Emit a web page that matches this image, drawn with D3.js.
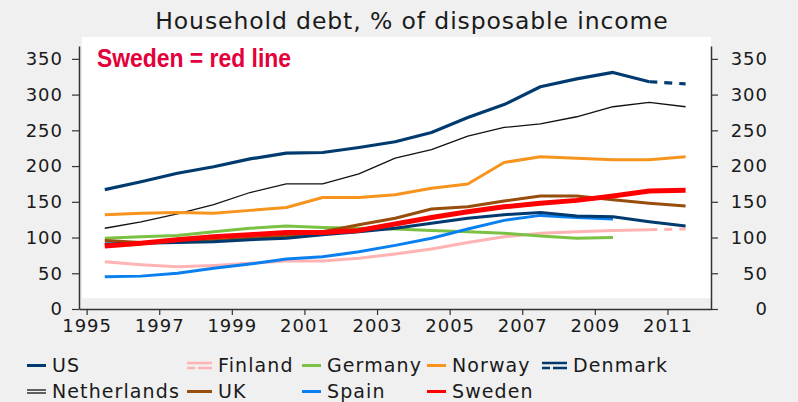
<!DOCTYPE html>
<html>
<head>
<meta charset="utf-8">
<script src="https://cdn.jsdelivr.net/npm/d3@7"></script>
<style>
  html, body { margin: 0; padding: 0; background: #f0f0f0; }
  #chart { width: 798px; height: 402px; }
  text { font-family: "DejaVu Sans", "Open Sans", sans-serif; fill: #1a1a1a; }
</style>
</head>
<body>
<div id="chart"></div>
<script>
// years are mid-year observations
const years = [1995.5, 1996.5, 1997.5, 1998.5, 1999.5, 2000.5, 2001.5, 2002.5, 2003.5,
  2004.5, 2005.5, 2006.5, 2007.5, 2008.5, 2009.5, 2010.5, 2011.5];

const denmark = [167, 178, 190, 199, 210, 218, 219, 226, 234, 247, 268, 286, 311, 322, 331, 318, 315];
const netherlands = [113, 122, 133, 146, 163, 175, 175, 189, 211, 223, 242, 254, 259, 269, 283, 289, 283];
const norway = [132, 134, 135, 134, 138, 142, 156, 156, 160, 169, 175, 205, 213, 211, 209, 209, 213];
const uk = [96, 93, 94, 96, 99, 102, 108, 118, 127, 140, 143, 151, 158, 158, 153, 148, 144];
const spain = [45, 46, 50, 57, 63, 70, 73, 80, 89, 99, 112, 124, 131, 128, 126];
const germany = [99, 101, 103, 108, 113, 116, 114, 113, 112, 110, 108, 106, 102, 99, 100];
const finland = [66, 62, 59, 61, 64, 67, 67, 71, 77, 84, 93, 101, 106, 108, 110, 111, 112];
const us = [91, 92, 93, 94, 97, 99, 104, 108, 113, 120, 127, 132, 135, 130, 129, 122, 116];
const sweden = [88, 92, 97, 101, 104, 107, 107, 110, 119, 128, 136, 143, 148, 152, 158, 165, 166];

const yTicks = [0, 50, 100, 150, 200, 250, 300, 350];
const xTicks = [1995, 1997, 1999, 2001, 2003, 2005, 2007, 2009, 2011];

// dashed = last segment is a forecast
const series = [
  { name: "Netherlands", values: netherlands, color: "#111111", width: 1.3 },
  { name: "Finland", values: finland, color: "#ffb3b3", width: 3, dashed: true },
  { name: "Germany", values: germany, color: "#7bc143", width: 3 },
  { name: "Norway", values: norway, color: "#f7941d", width: 3 },
  { name: "UK", values: uk, color: "#974d0c", width: 3 },
  { name: "Spain", values: spain, color: "#0a80f0", width: 3 },
  { name: "US", values: us, color: "#003a6e", width: 3 },
  { name: "Denmark", values: denmark, color: "#003a6e", width: 3.2, dashed: true },
  { name: "Sweden", values: sweden, color: "#ff0000", width: 5 }
];

const legendRows = [
  ["US", "Finland", "Germany", "Norway", "Denmark"],
  ["Netherlands", "UK", "Spain", "Sweden"]
];

function renderDebtChart(containerId) {
  const container = d3.select(`#${containerId}`);
  container.selectAll("*").remove();

  const width = 798, height = 402;
  const svg = container.append("svg")
    .attr("width", width)
    .attr("height", height);

  svg.append("rect")
    .attr("width", width)
    .attr("height", height)
    .attr("fill", "#f0f0f0");

  const x = d3.scaleLinear().domain([1994.79, 2012.2]).range([79, 711]);
  const y = d3.scaleLinear().domain([0, 368]).range([309, 46]);

  // white plot panel
  svg.append("rect")
    .attr("x", 82)
    .attr("y", 37)
    .attr("width", 711 - 82)
    .attr("height", 298 - 37)
    .attr("fill", "#ffffff");

  svg.append("text")
    .attr("x", 412)
    .attr("y", 29)
    .attr("text-anchor", "middle")
    .style("font-size", "23.5px")
    .style("letter-spacing", "0.9px")
    .text("Household debt, % of disposable income");

  svg.append("text")
    .attr("x", 97)
    .attr("y", 67)
    .attr("textLength", 194)
    .attr("lengthAdjust", "spacingAndGlyphs")
    .style("font-family", "'Liberation Sans Narrow', 'Arial Narrow', 'Liberation Sans', sans-serif")
    .style("font-weight", "bold")
    .style("font-size", "25px")
    .style("fill", "#e4003b")
    .text("Sweden = red line");

  const line = d3.line()
    .x(d => x(d[0]))
    .y(d => y(d[1]));

  series.forEach(s => {
    const pts = s.values.map((v, i) => [years[i], v]);
    const solid = s.dashed ? pts.slice(0, pts.length - 1) : pts;
    svg.append("path")
      .datum(solid)
      .attr("fill", "none")
      .attr("stroke", s.color)
      .attr("stroke-width", s.width)
      .attr("stroke-linejoin", "round")
      .attr("d", line);
    if (s.dashed) {
      svg.append("path")
        .datum(pts.slice(pts.length - 2))
        .attr("fill", "none")
        .attr("stroke", s.color)
        .attr("stroke-width", s.width)
        .attr("stroke-dasharray", "8,7")
        .attr("d", line);
    }
  });

  const axisStyle = g => {
    g.select(".domain").attr("stroke", "#333").attr("stroke-width", 1.5);
    g.selectAll(".tick line").attr("stroke", "#333").attr("stroke-width", 1.2);
    g.selectAll(".tick text")
      .style("font-size", "18px")
      .style("letter-spacing", "1px")
      .style("fill", "#1a1a1a");
  };

  svg.append("g")
    .attr("transform", "translate(79,0)")
    .call(d3.axisLeft(y).tickValues(yTicks).tickSize(7).tickSizeOuter(0).tickPadding(9))
    .call(axisStyle);

  svg.append("g")
    .attr("transform", "translate(711,0)")
    .call(d3.axisRight(y).tickValues(yTicks).tickSize(7).tickSizeOuter(0).tickPadding(9))
    .call(axisStyle)
    .selectAll(".tick text")
    .attr("text-anchor", "end")
    .attr("x", 57);

  svg.append("g")
    .attr("transform", "translate(0,309)")
    .call(d3.axisBottom(x).tickValues(xTicks).tickFormat(d3.format("d")).tickSize(6).tickSizeOuter(0).tickPadding(4))
    .call(axisStyle);

  // legend
  const colX = [27, 187, 302, 427, 542];
  const rowY = [372, 398];
  const byName = new Map(series.map(s => [s.name, s]));
  legendRows.forEach((row, r) => {
    row.forEach((name, c) => {
      const s = byName.get(name);
      const g = svg.append("g").attr("transform", `translate(${colX[c]},${rowY[r] - 6.5})`);
      const iconW = (c === 1 || c === 4) ? 25 : 19;
      if (s.dashed) {
        g.append("line").attr("x1", 0).attr("x2", iconW).attr("y1", -2.5).attr("y2", -2.5)
          .attr("stroke", s.color).attr("stroke-width", 2.5);
        g.append("line").attr("x1", 0).attr("x2", iconW).attr("y1", 2.5).attr("y2", 2.5)
          .attr("stroke", s.color).attr("stroke-width", 2.5).attr("stroke-dasharray", "8,3,14");
      } else if (name === "Netherlands") {
        g.append("line").attr("x1", 0).attr("x2", iconW).attr("y1", -1.5).attr("y2", -1.5)
          .attr("stroke", s.color).attr("stroke-width", 1.3);
        g.append("line").attr("x1", 0).attr("x2", iconW).attr("y1", 1.5).attr("y2", 1.5)
          .attr("stroke", s.color).attr("stroke-width", 1.3);
      } else {
        g.append("line").attr("x1", 0).attr("x2", iconW).attr("y1", 0).attr("y2", 0)
          .attr("stroke", s.color).attr("stroke-width", 3);
      }
      g.append("text")
        .attr("x", iconW + 6)
        .attr("y", 6.5)
        .style("font-size", "19px")
        .style("letter-spacing", "1.1px")
        .text(name);
    });
  });
}

document.addEventListener("DOMContentLoaded", () => {
  renderDebtChart("chart");
});
</script>
</body>
</html>
